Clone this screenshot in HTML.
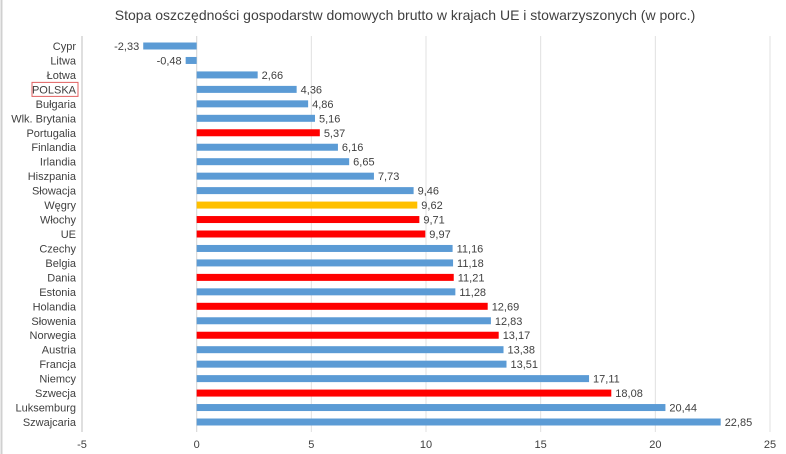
<!DOCTYPE html>
<html><head><meta charset="utf-8"><style>
body{margin:0;background:#fff;font-family:"Liberation Sans",sans-serif;}
svg{display:block}
text{font-family:"Liberation Sans",sans-serif;fill:#404040}
</style></head><body>
<svg id="chart" width="786" height="454" xmlns="http://www.w3.org/2000/svg">
<rect x="0" y="0" width="786" height="454" fill="#fff"/>
<line x1="1.5" y1="0" x2="1.5" y2="454" stroke="#d0d0d0" stroke-width="2"/>
<text x="405" y="20" font-size="14" text-anchor="middle">Stopa oszczędności gospodarstw domowych brutto w krajach UE i stowarzyszonych (w porc.)</text>
<g id="grid"></g><g id="bars"></g><g id="labels"></g><g id="ticks"></g>
</svg>
<script>
const categories=["Cypr","Litwa","Łotwa","POLSKA","Bułgaria","Wlk. Brytania","Portugalia","Finlandia","Irlandia","Hiszpania","Słowacja","Węgry","Włochy","UE","Czechy","Belgia","Dania","Estonia","Holandia","Słowenia","Norwegia","Austria","Francja","Niemcy","Szwecja","Luksemburg","Szwajcaria"];
const values=[-2.33,-0.48,2.66,4.36,4.86,5.16,5.37,6.16,6.65,7.73,9.46,9.62,9.71,9.97,11.16,11.18,11.21,11.28,12.69,12.83,13.17,13.38,13.51,17.11,18.08,20.44,22.85];
const highlight=["","","","","","","red","","","","","gold","red","red","","","red","","red","","red","","","","red","",""];
const tickValues=[-5,0,5,10,15,20,25];
const NS="http://www.w3.org/2000/svg";
const xMin=-5,xMax=25,x0=82,x1=770;
function xs(v){return x0+(v-xMin)/(xMax-xMin)*(x1-x0);}
const yTop=46,yBot=422;
function ys(i){return yTop+i*(yBot-yTop)/(categories.length-1);}
function mk(tag,attrs,parent){const e=document.createElementNS(NS,tag);for(const k in attrs)e.setAttribute(k,attrs[k]);parent.appendChild(e);return e;}
const g=document.getElementById('grid'),b=document.getElementById('bars'),l=document.getElementById('labels'),t=document.getElementById('ticks');
tickValues.forEach(v=>{
  const ln=mk('line',{x1:xs(v),x2:xs(v),y1:36,y2:432,stroke:v===xMin?'#bfbfbf':'#e0e0e0','stroke-width':1},g);
  
  
  const tx=mk('text',{x:xs(v),y:448,'font-size':11,'text-anchor':'middle'},t);
  tx.textContent=String(v);
  
  
});
const zl=mk('line',{x1:xs(0),x2:xs(0),y1:36,y2:432,stroke:'#d9d9d9','stroke-width':1},g);
categories.forEach((c,i)=>{
  const v=values[i],y=ys(i);
  const col=highlight[i]==='red'?'#ff0000':highlight[i]==='gold'?'#ffc000':'#5b9bd5';
  const r=mk('rect',{x:Math.min(xs(0),xs(v)),y:y-3.5,width:Math.abs(xs(v)-xs(0)),height:7,fill:col},b);
  
  
  const lab=mk('text',{x:76,y:y+4,'font-size':11,'text-anchor':'end'},l);
  lab.textContent=c;
  
  
  if(c==="POLSKA"){
    const bx=mk('rect',{x:32,y:y-7,width:46,height:14,fill:'none',stroke:'#e06060','stroke-width':1},l);
    
    
  }
  const vl=mk('text',{x:v<0?xs(v)-4:xs(v)+4,y:y+4,'font-size':11,'text-anchor':v<0?'end':'start'},l);
  vl.textContent=v.toFixed(2).replace('.',',');
  
  
});
</script>
</body></html>
